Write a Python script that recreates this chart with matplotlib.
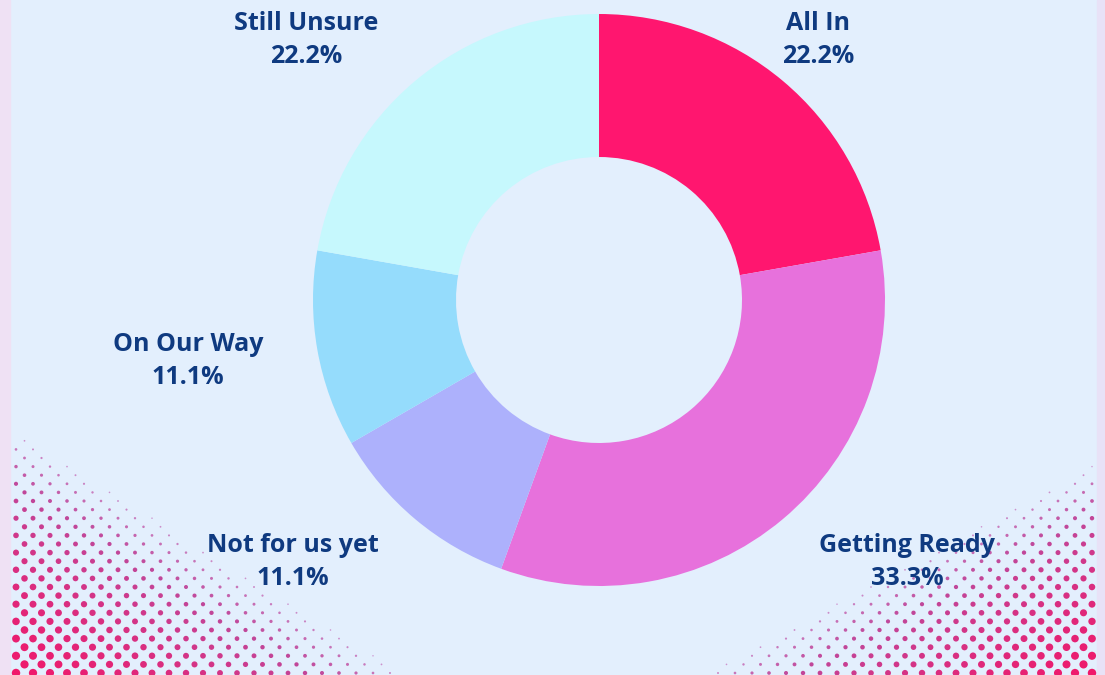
import numpy as np
import matplotlib.pyplot as plt
from matplotlib.colors import LinearSegmentedColormap

labels = ['All In', 'Getting Ready', 'Not for us yet', 'On Our Way', 'Still Unsure']
counts = [2, 3, 1, 1, 2]
colors = ['#FF166F', '#E771DC', '#ADB1FC', '#95DCFC', '#C6F8FD']

# label anchor points (figure pixels, y from top)
label_pos = [(818, 40), (907, 562), (293, 562), (188, 361), (306, 40)]

W, H = 1105, 675
bg = '#E3EFFD'
navy = '#0F3A80'

plt.rcParams['font.family'] = ['Open Sans', 'DejaVu Sans']

fig = plt.figure(figsize=(W / 100, H / 100), dpi=100)
fig.patch.set_facecolor(bg)
ax = fig.add_axes([0, 0, 1, 1])

# side strips
ax.axvspan(0, 10, color='#EFE1F4', zorder=0)
ax.axvspan(1097, W, color='#E8E2F7', zorder=0)

# halftone corners
dots = LinearSegmentedColormap.from_list('dots', ['#D4C4EE', '#C0479A', '#F0186A'])
def halftone(cx, cy, rx, ry, sign_x):
    xs, ys, ss = [], [], []
    for j, y in enumerate(np.arange(H - 2, cy - ry, -8.6)):
        off = 8.5 if j % 2 else 0
        for x in np.arange(cx + sign_x * off, cx + sign_x * rx, sign_x * 17):
            u = abs(x - cx) / rx
            v = abs(cy - y) / ry
            s = 1 - (u + v)
            if s > 0.03:
                xs.append(x); ys.append(y); ss.append(s)
    ss = np.array(ss)
    d = 8.5 * ss ** 0.5
    ax.scatter(xs, ys, s=(d * 0.72) ** 2, c=ss ** 0.5, cmap=dots, vmin=0, vmax=1,
               linewidths=0, zorder=1)

halftone(16, 675, 400, 250, 1)
halftone(1092, 675, 400, 215, -1)

ax.pie(counts, colors=colors, startangle=-90, counterclock=True,
       radius=286, center=(599, 300),
       wedgeprops=dict(width=143, linewidth=0), frame=True)
ax.set_xlim(0, W)
ax.set_ylim(H, 0)
ax.set_aspect('equal')
ax.axis('off')

total = sum(counts)
for lab, c, (x, y) in zip(labels, counts, label_pos):
    ax.text(x, y, f'{lab}\n{c / total * 100:.1f}%', ha='center', va='center',
            fontsize=18, fontweight='bold', color=navy, linespacing=1.4, zorder=5)

fig.savefig('out.png', dpi=100, facecolor=bg)
